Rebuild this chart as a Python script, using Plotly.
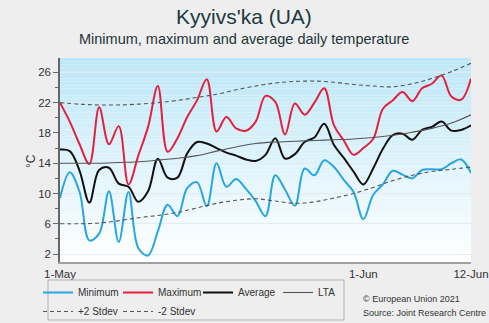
import pandas as pd
import plotly.graph_objects as go

# ---- data -------------------------------------------------------------
days = pd.date_range("2021-05-01", "2021-06-12", freq="D")

t_min = [9.4, 12.8, 10.2, 3.8, 4.7, 10.3, 3.6, 10.2, 2.8, 1.8,
         5.0, 8.5, 7.0, 10.7, 11.5, 8.3, 14.0, 10.9, 11.9, 10.6,
         9.0, 7.0, 12.4, 10.5, 8.4, 13.3, 12.4, 14.4, 13.5, 11.8,
         10.2, 6.6, 9.8, 11.2, 13.0, 12.5, 12.0, 13.1, 13.2, 13.2,
         14.0, 14.5, 12.7]
t_max = [22.0, 19.5, 16.5, 13.9, 21.4, 16.5, 18.9, 11.2, 15.0, 18.8,
         24.2, 15.5, 17.3, 20.1, 22.3, 25.1, 18.2, 20.1, 18.6, 18.3,
         19.5, 22.9, 22.1, 17.8, 21.9, 20.4, 22.0, 23.9, 19.0, 17.0,
         15.1, 16.0, 17.2, 21.2, 22.3, 23.4, 22.2, 23.9, 24.5, 25.6,
         22.8, 22.4, 25.2]
t_avg = [15.8, 15.6, 13.0, 8.8, 13.1, 13.4, 11.3, 10.9, 8.9, 10.3,
         14.6, 12.1, 12.1, 15.3, 16.8, 16.6, 16.0, 15.4, 15.0, 14.5,
         14.3, 15.1, 17.3, 14.6, 15.2, 16.8, 17.4, 19.2, 16.4, 14.7,
         12.9, 11.2, 13.3, 15.9, 17.7, 17.9, 17.1, 18.4, 18.8, 19.5,
         18.3, 18.4, 19.0]

# long-term average and +/- 2 standard deviations, every second day
ref_days = pd.date_range("2021-05-01", "2021-06-12", freq="2D")
lta = [14.0, 14.0, 14.0, 14.1, 14.2, 14.4, 14.65, 15.0, 15.6, 16.15,
       16.6, 16.8, 16.9, 17.0, 17.1, 17.2, 17.4, 17.7, 18.1, 18.6,
       19.3, 20.4]
plus2 = [22.0, 21.8, 21.7, 21.7, 21.8, 22.0, 22.3, 22.7, 23.1, 23.7,
         24.2, 24.6, 24.8, 24.85, 24.7, 24.4, 24.2, 24.1, 24.5, 25.2,
         26.1, 27.2]
minus2 = [6.0, 6.0, 6.1, 6.4, 6.8, 7.1, 7.5, 8.1, 8.7, 9.1,
          9.3, 9.0, 8.7, 8.9, 9.4, 10.0, 10.8, 11.7, 12.4, 12.9,
          13.2, 13.5]

y_ticks = [2, 6, 10, 14, 18, 22, 26]
x_tick_dates = ["2021-05-01", "2021-06-01", "2021-06-12"]
x_tick_text = ["1-May", "1-Jun", "12-Jun"]

# ---- figure -----------------------------------------------------------
W, H = 489, 323
ML, MR, MT, MB = 60, 18, 58, 61
PW, PH = W - ML - MR, H - MT - MB

BLUE = "#28a6df"
RED = "#e5203e"
BLACK = "#111111"
GREY = "#555555"
DASH = "4px,3px"
FONT = "Liberation Sans, Arial, sans-serif"

fig = go.Figure()

def add_line(x, y, name, color, width, dash="solid", legend="legend"):
    fig.add_trace(go.Scatter(
        x=x, y=y, name=name, mode="lines",
        line=dict(color=color, width=width, dash=dash,
                  shape="spline", smoothing=1.0),
        legend=legend, hoverinfo="x+y+name"))

add_line(days, t_min, "Minimum", BLUE, 2)
add_line(days, t_max, "Maximum", RED, 2)
add_line(days, t_avg, "Average", BLACK, 2)
add_line(ref_days, lta, "LTA", GREY, 1.1)
add_line(ref_days, plus2, "+2 Stdev", GREY, 1.1, dash=DASH, legend="legend2")
add_line(ref_days, minus2, "-2 Stdev", GREY, 1.1, dash=DASH, legend="legend2")

# vertical gradient behind the plot area: light blue at the top, white below
shapes = []
N = 60
top = (188, 231, 248)
bot = (255, 255, 255)
for i in range(N):
    f = (i + 0.5) / N
    c = tuple(round(bot[k] + (top[k] - bot[k]) * f) for k in range(3))
    shapes.append(dict(type="rect", xref="paper", yref="paper",
                       x0=0, x1=1, y0=i / N, y1=(i + 1) / N,
                       fillcolor="rgb(%d,%d,%d)" % c,
                       line=dict(width=0), layer="below"))

def px_x(p):
    return (p - ML) / PW

def px_y(p):
    return (H - MB - p) / PH

# frame around the legend rows
shapes.append(dict(type="rect", xref="paper", yref="paper",
                   x0=px_x(48), x1=px_x(344), y0=px_y(280), y1=px_y(320),
                   line=dict(color="#b0b0b0", width=1),
                   fillcolor="rgba(0,0,0,0)", layer="above"))

annotations = [
    dict(text="Kyyivs'ka (UA)", x=(244 - ML) / PW, y=px_y(16), xref="paper",
         yref="paper", showarrow=False,
         font=dict(size=21, color="#1c3a3f", family=FONT),
         xanchor="center", yanchor="middle"),
    dict(text="Minimum, maximum and average daily temperature",
         x=(244 - ML) / PW, y=px_y(39), xref="paper", yref="paper",
         showarrow=False, font=dict(size=14.5, color="#1f3538", family=FONT),
         xanchor="center", yanchor="middle"),
    dict(text="°C", x=px_x(31), y=px_y(161), xref="paper", yref="paper",
         showarrow=False, textangle=-90, xanchor="center", yanchor="middle",
         font=dict(size=12, color="#333333", family=FONT)),
    dict(text="© European Union 2021", x=px_x(361), y=px_y(299),
         xref="paper", yref="paper", showarrow=False, xanchor="left",
         yanchor="middle", font=dict(size=9, color="#333333", family=FONT)),
    dict(text="Source: Joint Research Centre", x=px_x(361), y=px_y(313),
         xref="paper", yref="paper", showarrow=False, xanchor="left",
         yanchor="middle", font=dict(size=9, color="#333333", family=FONT)),
]

legend_common = dict(
    orientation="h", xanchor="left", yanchor="top",
    bgcolor="rgba(0,0,0,0)", borderwidth=0,
    font=dict(size=10, color="#333333", family=FONT),
    entrywidth=35, entrywidthmode="pixels", tracegroupgap=0,
)

fig.update_layout(
    width=W, height=H,
    margin=dict(l=ML, r=MR, t=MT, b=MB, pad=0, autoexpand=False),
    paper_bgcolor="#eeeeee",
    plot_bgcolor="#ffffff",
    font=dict(family=FONT, color="#333333", size=12),
    showlegend=True,
    legend=dict(x=px_x(38), y=px_y(278), **legend_common),
    legend2=dict(x=px_x(38), y=px_y(297), **legend_common),
    shapes=shapes,
    annotations=annotations,
    xaxis=dict(
        type="date",
        range=["2021-05-01", "2021-06-12"],
        tickmode="array", tickvals=x_tick_dates, ticktext=x_tick_text,
        ticklabeloverflow="allow",
        showgrid=False, zeroline=False,
        showline=True, linecolor="#a0a0a0", linewidth=2,
        ticks="", tickfont=dict(size=11.5, color="#333333"),
    ),
    yaxis=dict(
        range=[0.95, 27.9],
        tickmode="array", tickvals=y_ticks,
        showgrid=True, gridcolor="rgba(225,235,240,0.9)", gridwidth=1,
        zeroline=False,
        showline=True, linecolor="#666666", linewidth=1.5,
        ticks="outside", ticklen=5, tickcolor="#666666", tickwidth=1,
        minor=dict(tickmode="linear", tick0=0, dtick=2, ticks="outside",
                   ticklen=3, tickcolor="#666666", showgrid=False),
        tickfont=dict(size=11.5, color="#333333"),
    ),
)

fig.write_html("out.html")
